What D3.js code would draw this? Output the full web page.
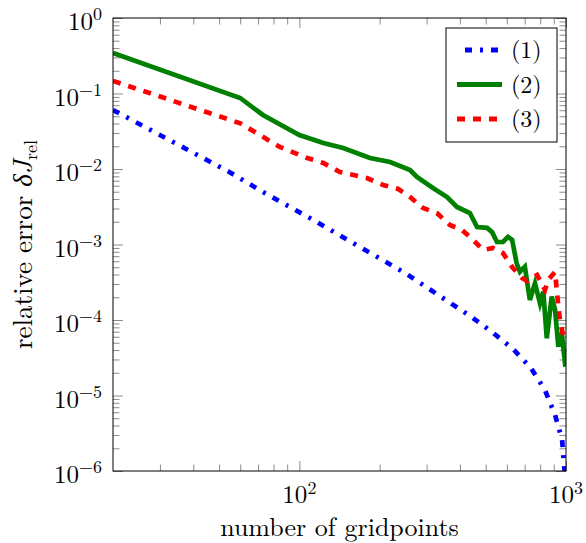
<!DOCTYPE html>
<html>
<head>
<meta charset="utf-8">
<script src="https://cdn.jsdelivr.net/npm/d3@7"></script>
<style>
body { margin: 0; background: white; }
.tick line { stroke: #808080; stroke-width: 0.9; }
</style>
</head>
<body>
<div id="chart"></div>
<script>
// series (1): dash-dot blue
const gridN1 = [20, 55, 73, 111, 166, 249, 361, 437, 528, 633, 739, 834, 910, 967, 984, 1000];
const relErr1 = [0.0605, 0.0090, 0.00496, 0.00218, 0.000955, 0.00042, 0.000176, 0.000113,
    6.93e-5, 4.13e-5, 2.31e-5, 1.18e-5, 5.5e-6, 2.58e-6, 1.13e-6, 8e-7];

// series (2): solid green
const gridN2 = [20, 60, 73, 100, 123, 146, 184, 219, 260, 276, 317, 358, 390, 436, 464, 506,
    528, 551, 580, 606, 628, 653, 672, 701, 732, 765, 799, 822, 847, 884, 910, 936, 964, 995];
const relErr2 = [0.344, 0.0872, 0.0519, 0.0282, 0.0221, 0.0190, 0.0140, 0.0124, 0.0097, 0.00783,
    0.0056, 0.00426, 0.00314, 0.00261, 0.0017, 0.00166, 0.00146, 0.00108, 0.00108, 0.00126,
    0.00115, 0.000564, 0.000436, 0.000508, 0.000184, 0.000306, 0.000166, 0.000237, 5.73e-5,
    0.000204, 0.000136, 4.43e-5, 6.73e-5, 2.41e-5];

// series (3): dashed red
const gridN3 = [20, 60, 84.5, 107, 123, 142, 179, 206, 235, 260, 291, 328, 367, 407, 448, 489,
    532, 580, 628, 684, 714, 779, 834, 856, 910, 934, 950, 975];
const relErr3 = [0.147, 0.0403, 0.0196, 0.0140, 0.0120, 0.00912, 0.0076, 0.00614, 0.00543,
    0.00426, 0.00304, 0.00261, 0.00181, 0.00156, 0.00115, 0.000846, 0.000899, 0.000771,
    0.000504, 0.00036, 0.000329, 0.000394, 0.00025, 0.000339, 0.000432, 0.000163, 9.7e-5, 6.3e-5];

const legendLabels = ["(1)", "(2)", "(3)"];
const xMajorTicks = [100, 1000];
const xTickExponents = ["2", "3"];
const yMajorTicks = [1e-6, 1e-5, 1e-4, 1e-3, 1e-2, 1e-1, 1];
const yTickExponents = ["\u22126", "\u22125", "\u22124", "\u22123", "\u22122", "\u22121", "0"];
const xMinorTicks = [30, 40, 50, 60, 70, 80, 90, 200, 300, 400, 500, 600, 700, 800, 900];

const yMinorTicks = [];
yMajorTicks.slice(0, -1).forEach(p => {
    for (let k = 2; k <= 9; k++) yMinorTicks.push(p * k);
});

const serif = "'Latin Modern Roman', 'Liberation Serif', serif";
const width = 586, height = 543;
const plot = { left: 113, right: 566, top: 18, bottom: 471 };

const svg = d3.select("#chart").append("svg")
    .attr("width", width)
    .attr("height", height);

const x = d3.scaleLog().domain([20, 1000]).range([plot.left, plot.right]);
const y = d3.scaleLog().domain([1e-6, 1]).range([plot.bottom, plot.top]);

// ticks on all four sides, pointing inward
function drawTicks(axisFn, scale, values, size, transform) {
    const g = svg.append("g")
        .attr("transform", transform)
        .call(axisFn(scale).tickValues(values).tickSize(-size).tickFormat(""));
    g.select(".domain").remove();
}
drawTicks(d3.axisBottom, x, xMinorTicks, 6.5, `translate(0,${plot.bottom})`);
drawTicks(d3.axisBottom, x, xMajorTicks, 10, `translate(0,${plot.bottom})`);
drawTicks(d3.axisTop, x, xMinorTicks, 6.5, `translate(0,${plot.top})`);
drawTicks(d3.axisTop, x, xMajorTicks, 10, `translate(0,${plot.top})`);
drawTicks(d3.axisLeft, y, yMinorTicks, 6.5, `translate(${plot.left},0)`);
drawTicks(d3.axisLeft, y, yMajorTicks, 10, `translate(${plot.left},0)`);
drawTicks(d3.axisRight, y, yMinorTicks, 6.5, `translate(${plot.right},0)`);
drawTicks(d3.axisRight, y, yMajorTicks, 10, `translate(${plot.right},0)`);

// tick labels 10^k
yMajorTicks.forEach((v, i) => {
    const t = svg.append("text")
        .attr("x", plot.left - 11)
        .attr("y", y(v) + 12)
        .attr("text-anchor", "end")
        .style("font-family", serif)
        .style("font-size", "25px");
    t.append("tspan").text("10");
    t.append("tspan").attr("dy", -10).style("font-size", "18px").text(yTickExponents[i]);
});
xMajorTicks.forEach((v, i) => {
    const t = svg.append("text")
        .attr("x", x(v))
        .attr("y", 503)
        .attr("text-anchor", "middle")
        .style("font-family", serif)
        .style("font-size", "25px");
    t.append("tspan").text("10");
    t.append("tspan").attr("dy", -9).style("font-size", "18px").text(xTickExponents[i]);
});

// curves
svg.append("clipPath").attr("id", "clip")
    .append("rect")
    .attr("x", plot.left).attr("y", plot.top)
    .attr("width", plot.right - plot.left).attr("height", plot.bottom - plot.top);

const line = d3.line().x(d => x(d[0])).y(d => y(d[1]));

const series = [
    { n: gridN1, e: relErr1, color: "#0000ff", dash: "7,8,3,8" },
    { n: gridN2, e: relErr2, color: "#008000", dash: null },
    { n: gridN3, e: relErr3, color: "#ff0000", dash: "8,8" }
];

const curves = svg.append("g").attr("clip-path", "url(#clip)");
series.forEach(s => {
    curves.append("path")
        .datum(d3.zip(s.n, s.e))
        .attr("d", line)
        .attr("fill", "none")
        .attr("stroke", s.color)
        .attr("stroke-width", 4.7)
        .attr("stroke-linejoin", "miter")
        .attr("stroke-dasharray", s.dash);
});

// frame
svg.append("rect")
    .attr("x", plot.left).attr("y", plot.top)
    .attr("width", plot.right - plot.left).attr("height", plot.bottom - plot.top)
    .attr("fill", "none")
    .attr("stroke", "black")
    .attr("stroke-width", 1);

// legend
const legend = svg.append("g");
legend.append("rect")
    .attr("x", 446).attr("y", 28)
    .attr("width", 111).attr("height", 114)
    .attr("fill", "white")
    .attr("stroke", "black")
    .attr("stroke-width", 1);

series.forEach((s, i) => {
    const ly = 50 + i * 34.5;
    legend.append("line")
        .attr("x1", 457).attr("x2", 502)
        .attr("y1", ly).attr("y2", ly)
        .attr("stroke", s.color)
        .attr("stroke-width", 4.8)
        .attr("stroke-dasharray", s.dash)
        .attr("stroke-dashoffset", i === 0 ? 18 : 0);
    legend.append("text")
        .attr("x", 511)
        .attr("y", ly + 8)
        .style("font-family", serif)
        .style("font-size", "24px")
        .text(legendLabels[i]);
});

// axis labels
svg.append("text")
    .attr("x", (plot.left + plot.right) / 2)
    .attr("y", 536)
    .attr("text-anchor", "middle")
    .style("font-family", serif)
    .style("font-size", "26px")
    .text("number of gridpoints");

const ylab = svg.append("text")
    .attr("transform", `translate(32,${(plot.top + plot.bottom) / 2}) rotate(-90)`)
    .attr("text-anchor", "middle")
    .style("font-family", serif)
    .style("font-size", "27px");
ylab.append("tspan").text("relative error ");
ylab.append("tspan").style("font-style", "italic").text("\u03b4J");
ylab.append("tspan").attr("dy", 5).style("font-size", "18px").text("rel");
</script>
</body>
</html>
